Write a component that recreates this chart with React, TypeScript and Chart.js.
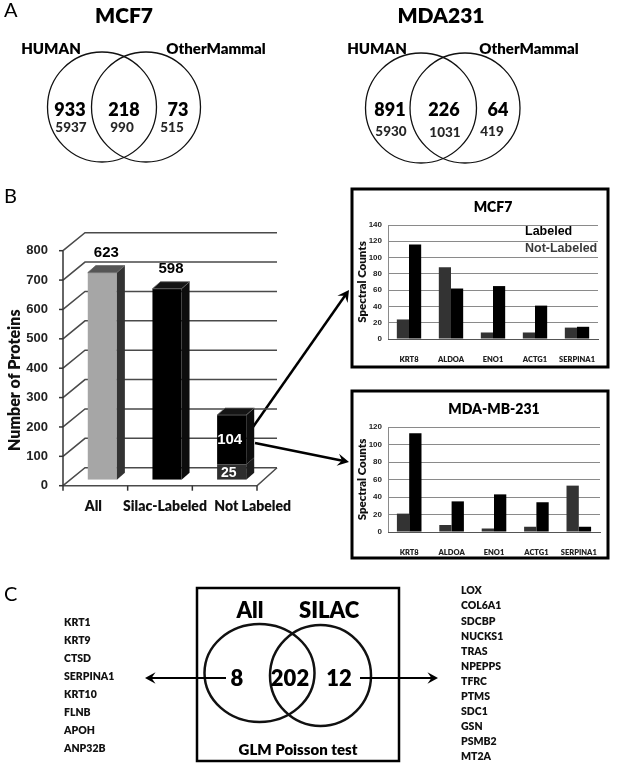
import React, { useEffect, useRef } from 'react';
import { Chart, registerables } from 'chart.js';
Chart.register(...registerables);

const W = 625;
const H = 763;

// ---------- Panel A: Venn counts ----------
const vennSetNames = ['HUMAN', 'OtherMammal'];
const mcf7ProteinCounts = [933, 218, 73];
const mcf7PeptideCounts = [5937, 990, 515];
const mda231ProteinCounts = [891, 226, 64];
const mda231PeptideCounts = [5930, 1031, 419];

// ---------- Panel B: protein bars (heights) ----------
const proteinCategories = ['All', 'Silac-Labeled', 'Not Labeled'];
const proteinBarBase = [705, 650, 52];
const proteinBarStack = [0, 0, 168];
const proteinBaseLabels = ['623', '598', '25'];
const proteinStackLabels = ['', '', '104'];
const proteinTickValues = [0, 100, 200, 300, 400, 500, 600, 700, 800];

// ---------- Panel B insets: spectral counts ----------
const geneCategories = ['KRT8', 'ALDOA', 'ENO1', 'ACTG1', 'SERPINA1'];
const seriesNames = ['Labeled', 'Not-Labeled'];
const mcf7Labeled = [24, 88, 8, 8, 14];
const mcf7NotLabeled = [116, 62, 65, 41, 15];
const mdaLabeled = [21, 8, 4, 6, 53];
const mdaNotLabeled = [113, 35, 43, 34, 6];

// ---------- Panel C ----------
const glmSetNames = ['All', 'SILAC'];
const glmCounts = [8, 202, 12];
const allOnlyGenes = ['KRT1', 'KRT9', 'CTSD', 'SERPINA1', 'KRT10', 'FLNB', 'APOH', 'ANP32B'];
const silacOnlyGenes = ['LOX', 'COL6A1', 'SDCBP', 'NUCKS1', 'TRAS', 'NPEPPS', 'TFRC', 'PTMS', 'SDC1', 'GSN', 'PSMB2', 'MT2A'];

const LATO = 'Lato, "Open Sans", sans-serif';
const ARIAL = '"Liberation Sans", Arial, sans-serif';
const HEAVY = '800';

function txt(ctx: CanvasRenderingContext2D, s: string, x: number, y: number, font: string, color = '#000', align: CanvasTextAlign = 'center') {
  ctx.save();
  ctx.font = font;
  ctx.fillStyle = color;
  ctx.textAlign = align;
  ctx.textBaseline = 'middle';
  ctx.fillText(s, x, y);
  ctx.restore();
}

function arrow(ctx: CanvasRenderingContext2D, x1: number, y1: number, x2: number, y2: number, lw: number, head: number) {
  const a = Math.atan2(y2 - y1, x2 - x1);
  ctx.save();
  ctx.strokeStyle = '#000';
  ctx.fillStyle = '#000';
  ctx.lineWidth = lw;
  ctx.beginPath();
  ctx.moveTo(x1, y1);
  ctx.lineTo(x2 - Math.cos(a) * head * 0.5, y2 - Math.sin(a) * head * 0.5);
  ctx.stroke();
  ctx.beginPath();
  ctx.moveTo(x2, y2);
  ctx.lineTo(x2 - head * Math.cos(a - 0.5), y2 - head * Math.sin(a - 0.5));
  ctx.lineTo(x2 - head * 0.55 * Math.cos(a), y2 - head * 0.55 * Math.sin(a));
  ctx.lineTo(x2 - head * Math.cos(a + 0.5), y2 - head * Math.sin(a + 0.5));
  ctx.closePath();
  ctx.fill();
  ctx.restore();
}

function ellipse(ctx: CanvasRenderingContext2D, cx: number, cy: number, rx: number, ry: number, lw: number) {
  ctx.save();
  ctx.strokeStyle = '#111';
  ctx.lineWidth = lw;
  ctx.beginPath();
  ctx.ellipse(cx, cy, rx, ry, 0, 0, Math.PI * 2);
  ctx.stroke();
  ctx.restore();
}

const backgroundPlugin = {
  id: 'figureBackground',
  afterDraw(chart: any) {
    const ctx: CanvasRenderingContext2D = chart.ctx;
    ctx.save();
    txt(ctx, 'A', 4, 11, `20px ${LATO}`, '#000', 'left');
    txt(ctx, 'B', 4, 197, `20px ${LATO}`, '#000', 'left');
    txt(ctx, 'C', 4, 595, `20px ${LATO}`, '#000', 'left');

    // ----- Venn MCF7
    txt(ctx, 'MCF7', 124, 16, `${HEAVY} 21px ${LATO}`);
    txt(ctx, vennSetNames[0], 51, 49, `${HEAVY} 15px ${LATO}`);
    txt(ctx, vennSetNames[1], 216, 49, `${HEAVY} 15px ${LATO}`);
    ellipse(ctx, 102, 107, 54.5, 55, 1.3);
    ellipse(ctx, 146, 107, 54.5, 55, 1.3);
    const mcfX = [70, 124, 178];
    const mcfSubX = [71, 122, 172];
    mcf7ProteinCounts.forEach((v, i) => txt(ctx, String(v), mcfX[i], 110, `${HEAVY} 18px ${LATO}`, '#000'));
    mcf7PeptideCounts.forEach((v, i) => txt(ctx, String(v), mcfSubX[i], 128, `900 13.5px ${LATO}`, '#262626'));

    // ----- Venn MDA231
    txt(ctx, 'MDA231', 441, 16, `${HEAVY} 21px ${LATO}`);
    txt(ctx, vennSetNames[0], 377, 49, `${HEAVY} 15px ${LATO}`);
    txt(ctx, vennSetNames[1], 529, 49, `${HEAVY} 15px ${LATO}`);
    ellipse(ctx, 421, 108, 55.5, 55, 1.3);
    ellipse(ctx, 465, 108, 55, 55, 1.3);
    const mdaX = [390, 444, 498];
    const mdaSubX = [391, 445, 492];
    const mdaSubY = [132, 133, 132];
    mda231ProteinCounts.forEach((v, i) => txt(ctx, String(v), mdaX[i], 110, `${HEAVY} 18px ${LATO}`, '#000'));
    mda231PeptideCounts.forEach((v, i) => txt(ctx, String(v), mdaSubX[i], mdaSubY[i], `900 13.5px ${LATO}`, '#262626'));

    // ----- inset boxes
    ctx.strokeStyle = '#000';
    ctx.lineWidth = 3;
    ctx.strokeRect(352, 189, 256, 178);
    ctx.strokeRect(352, 391, 256, 167);

    arrow(ctx, 253, 427, 349, 290, 2.5, 13);
    arrow(ctx, 255, 443, 349, 462, 2.5, 13);

    // ----- Panel C
    ctx.strokeStyle = '#000';
    ctx.lineWidth = 2.5;
    ctx.strokeRect(197, 588, 202, 173);
    txt(ctx, glmSetNames[0], 250, 611, `${HEAVY} 22px ${LATO}`);
    txt(ctx, glmSetNames[1], 329, 611, `${HEAVY} 22px ${LATO}`);
    ellipse(ctx, 259.5, 673, 55, 49, 2.5);
    ellipse(ctx, 320.5, 675.5, 50.5, 50.5, 2.5);
    const glmX = [237, 290, 339];
    glmCounts.forEach((v, i) => txt(ctx, String(v), glmX[i], 679, `${HEAVY} 22px ${LATO}`));
    txt(ctx, 'GLM Poisson test', 298, 750, `${HEAVY} 15px ${LATO}`);
    arrow(ctx, 226, 678, 145, 678, 2, 12);
    arrow(ctx, 360, 678, 438, 678, 2, 12);
    allOnlyGenes.forEach((g, i) => txt(ctx, g, 64, 623 + i * 18, `${HEAVY} 10.5px ${LATO}`, '#111', 'left'));
    silacOnlyGenes.forEach((g, i) => txt(ctx, g, 461, 591 + i * 15.1, `${HEAVY} 10.5px ${LATO}`, '#111', 'left'));
    ctx.restore();
  },
};

// ----- 3D bar chart helpers (panel B main)
const FRONT = { dx: -7, dy: 6 };
const BACK = { dx: 15, dy: -12 };
const DEPTH = { dx: 8, dy: -7 };
const sideColors = [['#333333', '#0d0d0d', '#1c1c1c'], ['#0d0d0d', '#0d0d0d', '#0d0d0d']];
const topColors = [['#555555', '#151515', '#3a3a3a'], ['#151515', '#151515', '#151515']];
const labelOffsetX = [-2, 5, 28];

const bar3dPlugin = {
  id: 'bar3d',
  beforeDatasetsDraw(chart: any) {
    const ctx: CanvasRenderingContext2D = chart.ctx;
    const ys = chart.scales.y;
    const xs = chart.scales.x;
    const area = chart.chartArea;
    ctx.save();
    ctx.strokeStyle = '#4a4a4a';
    ctx.lineWidth = 1.5;
    proteinTickValues.forEach((v) => {
      const yb = ys.getPixelForValue(v);
      ctx.beginPath();
      ctx.moveTo(area.left + FRONT.dx, yb + FRONT.dy);
      ctx.lineTo(area.left + BACK.dx, yb + BACK.dy);
      ctx.lineTo(area.right + BACK.dx - 2, yb + BACK.dy);
      ctx.stroke();
    });
    const y0 = ys.getPixelForValue(0);
    ctx.beginPath();
    ctx.moveTo(area.left + FRONT.dx, y0 + FRONT.dy);
    ctx.lineTo(area.right + FRONT.dx, y0 + FRONT.dy);
    ctx.lineTo(area.right + BACK.dx - 2, y0 + BACK.dy);
    ctx.stroke();
    ctx.strokeStyle = '#333';
    ctx.lineWidth = 1.5;
    const yTop = ys.getPixelForValue(proteinTickValues[proteinTickValues.length - 1]);
    ctx.beginPath();
    ctx.moveTo(area.left + FRONT.dx, yTop + FRONT.dy);
    ctx.lineTo(area.left + FRONT.dx, y0 + FRONT.dy);
    ctx.stroke();
    proteinTickValues.forEach((v) => {
      const yf = ys.getPixelForValue(v) + FRONT.dy;
      ctx.beginPath();
      ctx.moveTo(area.left + FRONT.dx - 4, yf);
      ctx.lineTo(area.left + FRONT.dx, yf);
      ctx.stroke();
      txt(ctx, String(v), area.left + FRONT.dx - 15, yf, `bold 13px ${ARIAL}`, '#222', 'right');
    });
    const n = proteinCategories.length;
    const cw = (area.right - area.left) / n;
    for (let i = 0; i <= n; i++) {
      const x = area.left + FRONT.dx + i * cw;
      ctx.beginPath();
      ctx.moveTo(x, y0 + FRONT.dy);
      ctx.lineTo(x, y0 + FRONT.dy + 5);
      ctx.stroke();
    }
    proteinCategories.forEach((c, i) => {
      const x = xs.getPixelForValue(i) + FRONT.dx + labelOffsetX[i];
      txt(ctx, c, x, y0 + FRONT.dy + 21, `${HEAVY} 14px ${LATO}`, '#111');
    });
    ctx.save();
    ctx.translate(15, (yTop + y0) / 2 + FRONT.dy + 12);
    ctx.rotate(-Math.PI / 2);
    txt(ctx, 'Number of Proteins', 0, 0, `${HEAVY} 16px ${LATO}`, '#111');
    ctx.restore();
    ctx.restore();
  },
  afterDatasetsDraw(chart: any) {
    const ctx: CanvasRenderingContext2D = chart.ctx;
    ctx.save();
    chart.data.datasets.forEach((ds: any, di: number) => {
      const meta = chart.getDatasetMeta(di);
      meta.data.forEach((el: any, i: number) => {
        const v = ds.data[i];
        if (!v) return;
        const { x, y, base, width } = el.getProps(['x', 'y', 'base', 'width'], true);
        const r = x + width / 2;
        const l = x - width / 2;
        ctx.fillStyle = sideColors[di][i];
        ctx.beginPath();
        ctx.moveTo(r, y);
        ctx.lineTo(r + DEPTH.dx, y + DEPTH.dy);
        ctx.lineTo(r + DEPTH.dx, base + DEPTH.dy);
        ctx.lineTo(r, base);
        ctx.closePath();
        ctx.fill();
        const covered = di === 0 && proteinBarStack[i] > 0;
        if (!covered) {
          ctx.fillStyle = topColors[di][i];
          ctx.beginPath();
          ctx.moveTo(l, y);
          ctx.lineTo(l + DEPTH.dx, y + DEPTH.dy);
          ctx.lineTo(r + DEPTH.dx, y + DEPTH.dy);
          ctx.lineTo(r, y);
          ctx.closePath();
          ctx.fill();
          ctx.strokeStyle = '#666';
          ctx.lineWidth = 0.8;
          ctx.stroke();
        }
      });
    });
    const m0 = chart.getDatasetMeta(0);
    const m1 = chart.getDatasetMeta(1);
    m0.data.forEach((el: any, i: number) => {
      const p = el.getProps(['x', 'y', 'base'], true);
      if (proteinBarStack[i] > 0) {
        txt(ctx, proteinBaseLabels[i], p.x - 3, (p.y + p.base) / 2 + 1, `bold 14px ${ARIAL}`, '#fff');
        const q = m1.data[i].getProps(['x', 'y', 'base'], true);
        txt(ctx, proteinStackLabels[i], q.x - 2, (q.y + q.base) / 2, `bold 15px ${ARIAL}`, '#fff');
      } else {
        txt(ctx, proteinBaseLabels[i], p.x + 4, p.y - 20, `bold 15px ${ARIAL}`, '#000');
      }
    });
    ctx.restore();
  },
};

function insetConfig(title: string, labeled: number[], notLabeled: number[], yMax: number, pad: any, xHeight: number, showLegend: boolean) {
  const insetText = {
    id: 'insetText',
    afterDraw(chart: any) {
      const ctx: CanvasRenderingContext2D = chart.ctx;
      const a = chart.chartArea;
      txt(ctx, title, (a.left + a.right) / 2, a.top - 18, `${HEAVY} 14px ${LATO}`, '#000');
      if (showLegend) {
        txt(ctx, seriesNames[0], a.left + 137, a.top + 7, `bold 12.5px ${ARIAL}`, '#000', 'left');
        txt(ctx, seriesNames[1], a.left + 137, a.top + 24, `bold 12.5px ${ARIAL}`, '#3a3a3a', 'left');
      }
    },
  };
  return {
    type: 'bar',
    data: {
      labels: geneCategories,
      datasets: [
        { label: seriesNames[0], data: labeled, backgroundColor: '#333333', barPercentage: 1, categoryPercentage: 0.58 },
        { label: seriesNames[1], data: notLabeled, backgroundColor: '#000000', barPercentage: 1, categoryPercentage: 0.58 },
      ],
    },
    options: {
      responsive: false,
      animation: false,
      layout: { padding: pad },
      plugins: { legend: { display: false }, tooltip: { enabled: false }, title: { display: false } },
      scales: {
        y: {
          min: 0,
          max: yMax,
          ticks: { stepSize: 20, padding: 6, color: '#222', font: { family: ARIAL, weight: 'bold', size: 8 } },
          grid: { color: '#8a8a8a', lineWidth: 1, drawTicks: false },
          border: { display: true, color: '#8a8a8a' },
          title: { display: true, text: 'Spectral Counts', color: '#111', font: { family: LATO, weight: HEAVY, size: 11.5 }, padding: { top: 3, bottom: 0 } },
          afterFit: (s: any) => { s.width = 36; },
        },
        x: {
          ticks: { padding: 8, color: '#222', autoSkip: false, maxRotation: 0, font: { family: LATO, weight: HEAVY, size: 7.5 } },
          grid: { display: false },
          border: { display: true, color: '#555' },
          afterFit: (s: any) => { s.height = xHeight; },
        },
      },
    },
    plugins: [insetText],
  };
}

function ChartBox({ left, top, width, height, make }: { left: number; top: number; width: number; height: number; make: () => any }) {
  const ref = useRef<HTMLCanvasElement>(null);
  useEffect(() => {
    const chart = new Chart(ref.current as HTMLCanvasElement, make());
    return () => chart.destroy();
  }, []);
  return (
    <div style={{ position: 'absolute', left, top, width, height }}>
      <canvas ref={ref} width={width} height={height} style={{ width, height, display: 'block' }} />
    </div>
  );
}

export default function App() {
  return (
    <div style={{ position: 'absolute', left: 0, top: 0, width: W, height: H, background: '#fff', overflow: 'hidden' }}>
      <ChartBox
        left={0}
        top={0}
        width={W}
        height={H}
        make={() => ({
          type: 'scatter',
          data: { datasets: [] },
          options: {
            responsive: false,
            animation: false,
            plugins: { legend: { display: false }, tooltip: { enabled: false } },
            scales: { x: { display: false }, y: { display: false } },
          },
          plugins: [backgroundPlugin],
        })}
      />
      <ChartBox
        left={0}
        top={200}
        width={300}
        height={320}
        make={() => ({
          type: 'bar',
          data: {
            labels: proteinCategories,
            datasets: [
              { data: proteinBarBase, backgroundColor: ['#a6a6a6', '#000000', '#2e2e2e'], stack: 's', barPercentage: 0.45, categoryPercentage: 1 },
              { data: proteinBarStack, backgroundColor: '#000000', stack: 's', barPercentage: 0.45, categoryPercentage: 1 },
            ],
          },
          options: {
            responsive: false,
            animation: false,
            layout: { padding: { left: 70, right: 36, top: 44.7, bottom: 40.3 } },
            plugins: { legend: { display: false }, tooltip: { enabled: false } },
            scales: {
              x: { display: false, stacked: true },
              y: { display: false, stacked: true, min: 0, max: 800 },
            },
          },
          plugins: [bar3dPlugin],
        })}
      />
      <ChartBox
        left={352}
        top={189}
        width={256}
        height={178}
        make={() => insetConfig('MCF7', mcf7Labeled, mcf7NotLabeled, 140, { top: 36, right: 10, left: 0, bottom: 0 }, 28, true)}
      />
      <ChartBox
        left={352}
        top={391}
        width={256}
        height={167}
        make={() => insetConfig('MDA-MB-231', mdaLabeled, mdaNotLabeled, 120, { top: 36, right: 8, left: 0, bottom: 0 }, 26, false)}
      />
    </div>
  );
}
